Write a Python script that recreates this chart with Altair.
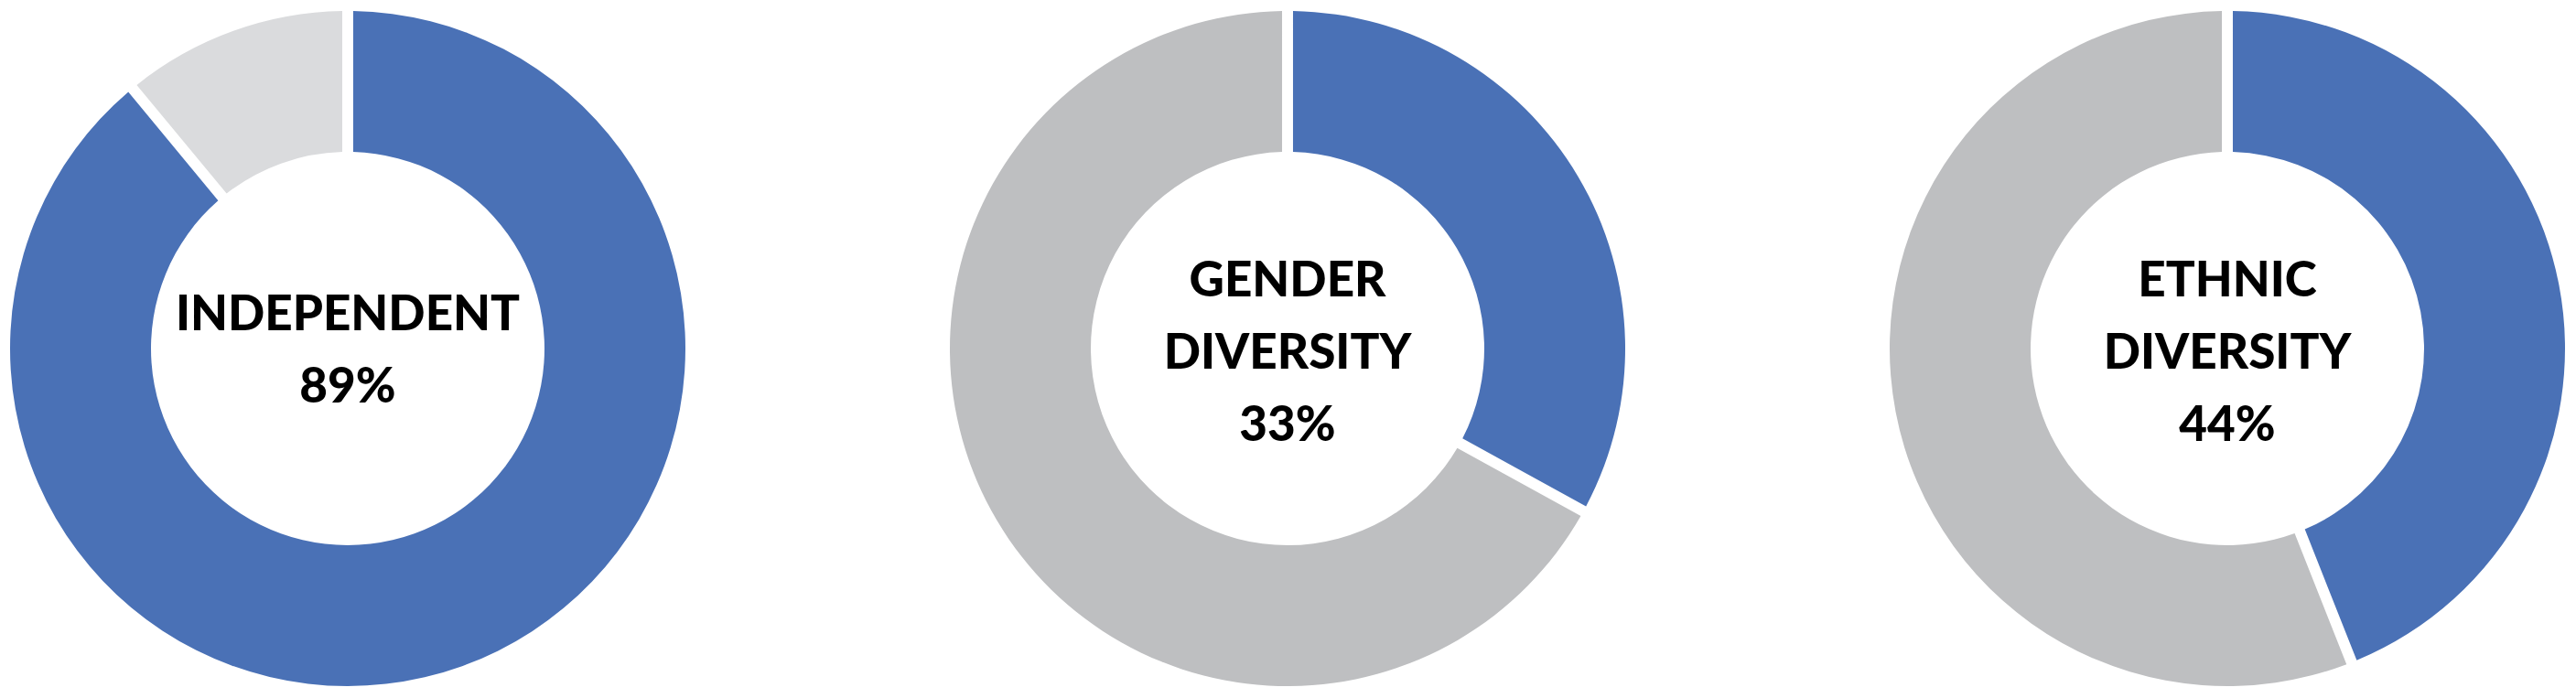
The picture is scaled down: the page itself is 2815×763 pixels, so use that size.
import altair as alt
import pandas as pd

# Data
titles = [["INDEPENDENT"], ["GENDER", "DIVERSITY"], ["ETHNIC", "DIVERSITY"]]
shares = [89, 33, 44]
segments = ["share", "rest"]

BLUE = "#4A71B6"
REST_COLORS = ["#DADBDD", "#BEBFC1", "#BEBFC1"]
LINE_H = 79

panels = []
for title, share, rest_color in zip(titles, shares, REST_COLORS):
    df = pd.DataFrame({
        "segment": segments,
        "value": [share, 100 - share],
        "order": [0, 1],
    })
    arc = alt.Chart(df).mark_arc(
        outerRadius=369, innerRadius=215, padAngle=0.028
    ).encode(
        theta=alt.Theta("value:Q", stack=True),
        order=alt.Order("order:Q"),
        color=alt.Color(
            "segment:N",
            scale=alt.Scale(domain=segments, range=[BLUE, rest_color]),
            legend=None,
        ),
    )
    lines = title + [f"{share}%"]
    label = "\n".join(lines)
    txt = alt.Chart(pd.DataFrame({"label": [label]})).mark_text(
        font="Lato", fontWeight=900, fontSize=53, lineHeight=LINE_H,
        lineBreak="\n", color="#000000", align="center", baseline="middle",
        dy=-36.5 * (len(lines) - 1),
    ).encode(text="label:N")
    panels.append(alt.layer(arc, txt).properties(width=744, height=746))

chart = (
    alt.hconcat(*panels, spacing=283)
    .resolve_scale(color="independent", theta="independent")
    .properties(padding=0, background="white")
    .configure_view(stroke=None)
)

chart.save("out.html", embed_options={"renderer": "svg", "actions": False})
